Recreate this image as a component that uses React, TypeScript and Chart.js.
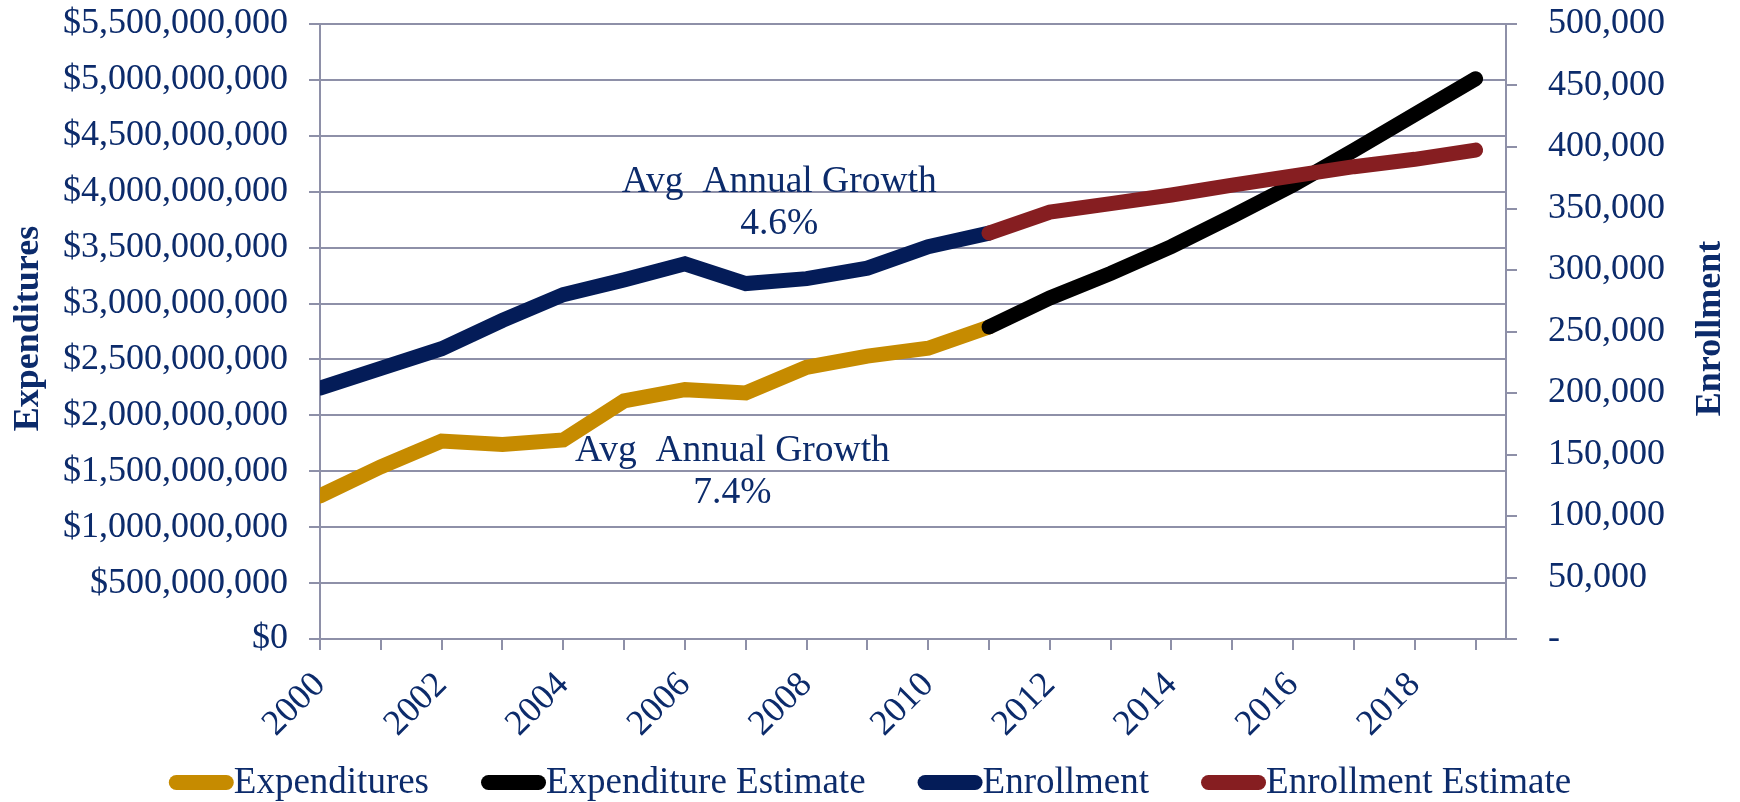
import React, { useEffect, useRef } from 'react';
import { Chart, registerables } from 'chart.js';

Chart.register(...registerables);

// ---- Data ----
const years = [2000, 2001, 2002, 2003, 2004, 2005, 2006, 2007, 2008, 2009, 2010, 2011, 2012, 2013, 2014, 2015, 2016, 2017, 2018, 2019];
const actualYears = [2000, 2001, 2002, 2003, 2004, 2005, 2006, 2007, 2008, 2009, 2010, 2011];
const estimateYears = [2011, 2012, 2013, 2014, 2015, 2016, 2017, 2018, 2019];
const expenditures = [1.28e9, 1.54e9, 1.77e9, 1.74e9, 1.78e9, 2.13e9, 2.23e9, 2.2e9, 2.43e9, 2.53e9, 2.6e9, 2.79e9];
const expenditureEstimate = [2.79e9, 3.05e9, 3.27e9, 3.51e9, 3.78e9, 4.06e9, 4.37e9, 4.69e9, 5.01e9];
const enrollment = [204000, 220000, 236000, 259000, 280000, 292000, 305000, 289000, 293000, 301500, 319000, 330000];
const enrollmentEstimate = [330000, 347000, 354000, 361000, 369000, 376500, 384000, 390000, 397500];
const xTickLabels = ['2000', '2002', '2004', '2006', '2008', '2010', '2012', '2014', '2016', '2018'];
const seriesNames = ['Expenditures', 'Expenditure Estimate', 'Enrollment', 'Enrollment Estimate'];
const annotations = [
  { x: 2007.55, y: 4.0e9, lines: ['Avg  Annual Growth', '4.6%'] },
  { x: 2006.78, y: 1.593e9, lines: ['Avg  Annual Growth', '7.4%'] },
];

// ---- Styles ----
const FONT = '"Liberation Serif", "Times New Roman", serif';
const TEXT = '#0c2b6b';
const GRID = '#8e90a8';
const COLORS = ['#c68b00', '#000000', '#041c58', '#861e21'];
const LINE_W = 15;

const pts = (xs: number[], ys: number[]) => xs.map((x, i) => ({ x, y: ys[i] }));

const overlayPlugin = {
  id: 'overlay',
  afterDraw(chart: any) {
    const ctx = chart.ctx as CanvasRenderingContext2D;
    const area = chart.chartArea;
    const xs = chart.scales.x;
    const ys = chart.scales.y;
    ctx.save();
    ctx.fillStyle = TEXT;
    ctx.textBaseline = 'alphabetic';
    ctx.textAlign = 'center';
    ctx.font = `37.5px ${FONT}`;
    for (const a of annotations) {
      const px = xs.getPixelForValue(a.x);
      const py = ys.getPixelForValue(a.y);
      ctx.fillText(a.lines[0], px, py);
      ctx.fillText(a.lines[1], px, py + 42);
    }
    const cy = (area.top + area.bottom) / 2 - 3;
    ctx.font = `bold 36px ${FONT}`;
    ctx.save();
    ctx.translate(38, cy);
    ctx.rotate(-Math.PI / 2);
    ctx.fillText('Expenditures', 0, 0);
    ctx.restore();
    ctx.save();
    ctx.translate(chart.width - 20, cy);
    ctx.rotate(-Math.PI / 2);
    ctx.fillText('Enrollment', 0, 0);
    ctx.restore();

    // legend
    ctx.font = `37px ${FONT}`;
    ctx.textAlign = 'left';
    const sample = 65;
    const gap = 52;
    const widths = seriesNames.map((n) => sample + ctx.measureText(n).width);
    const total = widths.reduce((s, w) => s + w, 0) + gap * (seriesNames.length - 1);
    let x = (chart.width - total) / 2;
    const ly = 782.5;
    seriesNames.forEach((n, i) => {
      ctx.strokeStyle = COLORS[i];
      ctx.lineWidth = LINE_W;
      ctx.lineCap = 'round';
      ctx.beginPath();
      ctx.moveTo(x + LINE_W / 2, ly);
      ctx.lineTo(x + sample - LINE_W / 2, ly);
      ctx.stroke();
      ctx.fillStyle = TEXT;
      ctx.fillText(n, x + sample, ly + 10);
      x += widths[i] + gap;
    });
    ctx.restore();
  },
};

const noPad = (s: any) => {
  s.paddingTop = 0;
  s.paddingBottom = 0;
};

export default function App() {
  const ref = useRef<HTMLCanvasElement | null>(null);
  useEffect(() => {
    if (!ref.current) return;
    const common = {
      pointRadius: 0,
      borderWidth: LINE_W,
      borderCapStyle: 'round',
      borderJoinStyle: 'miter',
      tension: 0,
      fill: false,
      clip: 0,
    };
    const chart = new Chart(ref.current, {
      type: 'line',
      data: {
        datasets: [
          { ...common, label: seriesNames[0], data: pts(actualYears, expenditures), borderColor: COLORS[0], backgroundColor: COLORS[0], yAxisID: 'y', order: 4 },
          { ...common, label: seriesNames[1], data: pts(estimateYears, expenditureEstimate), borderColor: COLORS[1], backgroundColor: COLORS[1], yAxisID: 'y', order: 3 },
          { ...common, label: seriesNames[2], data: pts(actualYears, enrollment), borderColor: COLORS[2], backgroundColor: COLORS[2], yAxisID: 'y1', order: 2 },
          { ...common, label: seriesNames[3], data: pts(estimateYears, enrollmentEstimate), borderColor: COLORS[3], backgroundColor: COLORS[3], yAxisID: 'y1', order: 1 },
        ] as any,
      },
      options: {
        animation: false,
        responsive: false,
        maintainAspectRatio: false,
        layout: { padding: { top: 24, left: 0, right: 0, bottom: 0 } },
        plugins: { legend: { display: false }, tooltip: { enabled: false } },
        scales: {
          x: {
            type: 'linear',
            min: 2000,
            max: 2019.5,
            afterBuildTicks: (s: any) => {
              s.ticks = years.map((v) => ({ value: v }));
            },
            afterFit: (s: any) => {
              s.height = 163;
              s.paddingLeft = 0;
              s.paddingRight = 0;
            },
            ticks: {
              autoSkip: false,
              minRotation: 45,
              maxRotation: 45,
              padding: 14,
              color: TEXT,
              font: { family: FONT, size: 36 },
              callback: (v: any) => (xTickLabels.includes(String(v)) ? String(v) : ''),
            },
            grid: { drawOnChartArea: false, drawTicks: true, tickLength: 11, color: GRID, lineWidth: 2 },
            border: { display: true, color: GRID, width: 2 },
          },
          y: {
            type: 'linear',
            position: 'left',
            min: 0,
            max: 5.5e9,
            afterFit: (s: any) => {
              s.width = 320;
              noPad(s);
            },
            ticks: {
              stepSize: 5e8,
              padding: 21,
              color: TEXT,
              font: { family: FONT, size: 36 },
              callback: (v: any) => '$' + Number(v).toLocaleString('en-US'),
            },
            grid: { color: GRID, lineWidth: 2, tickLength: 11 },
            border: { display: true, color: GRID, width: 2 },
          },
          y1: {
            type: 'linear',
            position: 'right',
            min: 0,
            max: 500000,
            afterFit: (s: any) => {
              s.width = 234;
              noPad(s);
            },
            ticks: {
              stepSize: 50000,
              padding: 31,
              color: TEXT,
              font: { family: FONT, size: 36 },
              callback: (v: any) => (Number(v) === 0 ? '-' : Number(v).toLocaleString('en-US')),
            },
            grid: { drawOnChartArea: false, drawTicks: true, tickLength: 11, color: GRID, lineWidth: 2 },
            border: { display: true, color: GRID, width: 2 },
          },
        },
      } as any,
      plugins: [overlayPlugin],
    });
    return () => chart.destroy();
  }, []);
  return (
    <div style={{ position: 'fixed', left: 0, top: 0, width: 1740, height: 802, background: '#ffffff' }}>
      <canvas ref={ref} width={1740} height={802} style={{ width: 1740, height: 802, display: 'block' }} />
    </div>
  );
}
